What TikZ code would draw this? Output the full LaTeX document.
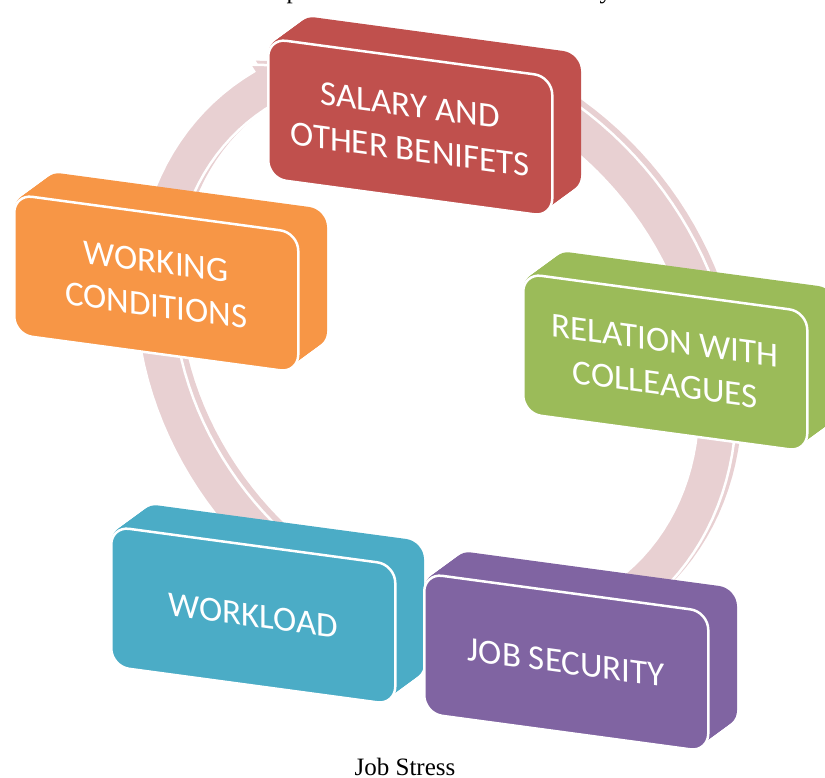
\documentclass[tikz,border=0pt]{standalone}
\usepackage{fontspec}
\setmainfont{Liberation Serif}
\newfontfamily\boxfont{Carlito}
\usepackage{tikz}
\usetikzlibrary{positioning}
\definecolor{salary}{RGB}{192, 80, 77}
\definecolor{working}{RGB}{247, 150, 70}
\definecolor{relation}{RGB}{155, 187, 89}
\definecolor{workload}{RGB}{75, 172, 198}
\definecolor{security}{RGB}{128, 100, 162}
\definecolor{ring}{RGB}{232, 208, 210}
\tikzstyle{face} = [rectangle, rounded corners=18pt, draw=white, line width=2.5pt, text=white, align=center, font=\boxfont\fontsize{35}{44}\selectfont, minimum width=284pt, minimum height=140pt, inner sep=0pt, anchor=north west]
\tikzstyle{slab} = [rounded corners=18pt]
\tikzstyle{caption} = [font=\fontsize{25}{30}\selectfont, text=black, anchor=base]
\tikzstyle{band} = [fill=ring]

% 3d block: top left corner of front face (image px), colour, name, text
\newcommand{\block}[5]{
  \begin{scope}[shift={(#1,778-#2)}, yslant=-0.135, transform shape]
    % depth: front face pushed back step by step
    \foreach \t in {1,...,20}
      \fill[slab, #3] (1.5*\t,1.3*\t) rectangle ++(284,-140);
    \node[face, fill=#3] (#4) at (0,0) {#5};
  \end{scope}
}

% cycle arrow round the blocks, ends in a head at the upper left
\newcommand{\ringpath}{
  plot[domain=128:-188, samples=120] ({332*cos(\x)}, {276*sin(\x)})
  -- ({340*cos(-188)}, {284*sin(-188)})
  -- ({313*cos(-200)}, {257*sin(-200)})
  -- ({286*cos(-188)}, {230*sin(-188)})
  -- plot[domain=-188:128, samples=120] ({294*cos(\x)}, {238*sin(\x)}) -- cycle
}

\begin{document}
\begin{tikzpicture}[x=1pt, y=1pt]

\useasboundingbox (0,0) rectangle (825,778);
\clip (0,0) rectangle (825,778);

% ring =============================
\begin{scope}[shift={(442,434)}, rotate=-50]
  \fill[band] \ringpath;
\end{scope}
\begin{scope}[shift={(436,430)}, rotate=-50]
  \filldraw[band, draw=white, line width=2.5pt] \ringpath;
\end{scope}

% blocks =============================
\block{13}{193}{working}{work}{WORKING\\CONDITIONS}
\block{267}{37}{salary}{sal}{SALARY AND\\OTHER BENIFETS}
\block{522}{272}{relation}{rel}{RELATION WITH\\COLLEAGUES}
\block{110}{525}{workload}{load}{WORKLOAD}
\block{423}{572}{security}{sec}{JOB SECURITY}

% caption
\node[caption] (title) at (405,2) {Job Stress};
\node[caption, anchor=base west] (capp) at (283,779.5) {p};
\node[caption, anchor=base west] (capy) at (596,779.5) {y};

\end{tikzpicture}
\end{document}
